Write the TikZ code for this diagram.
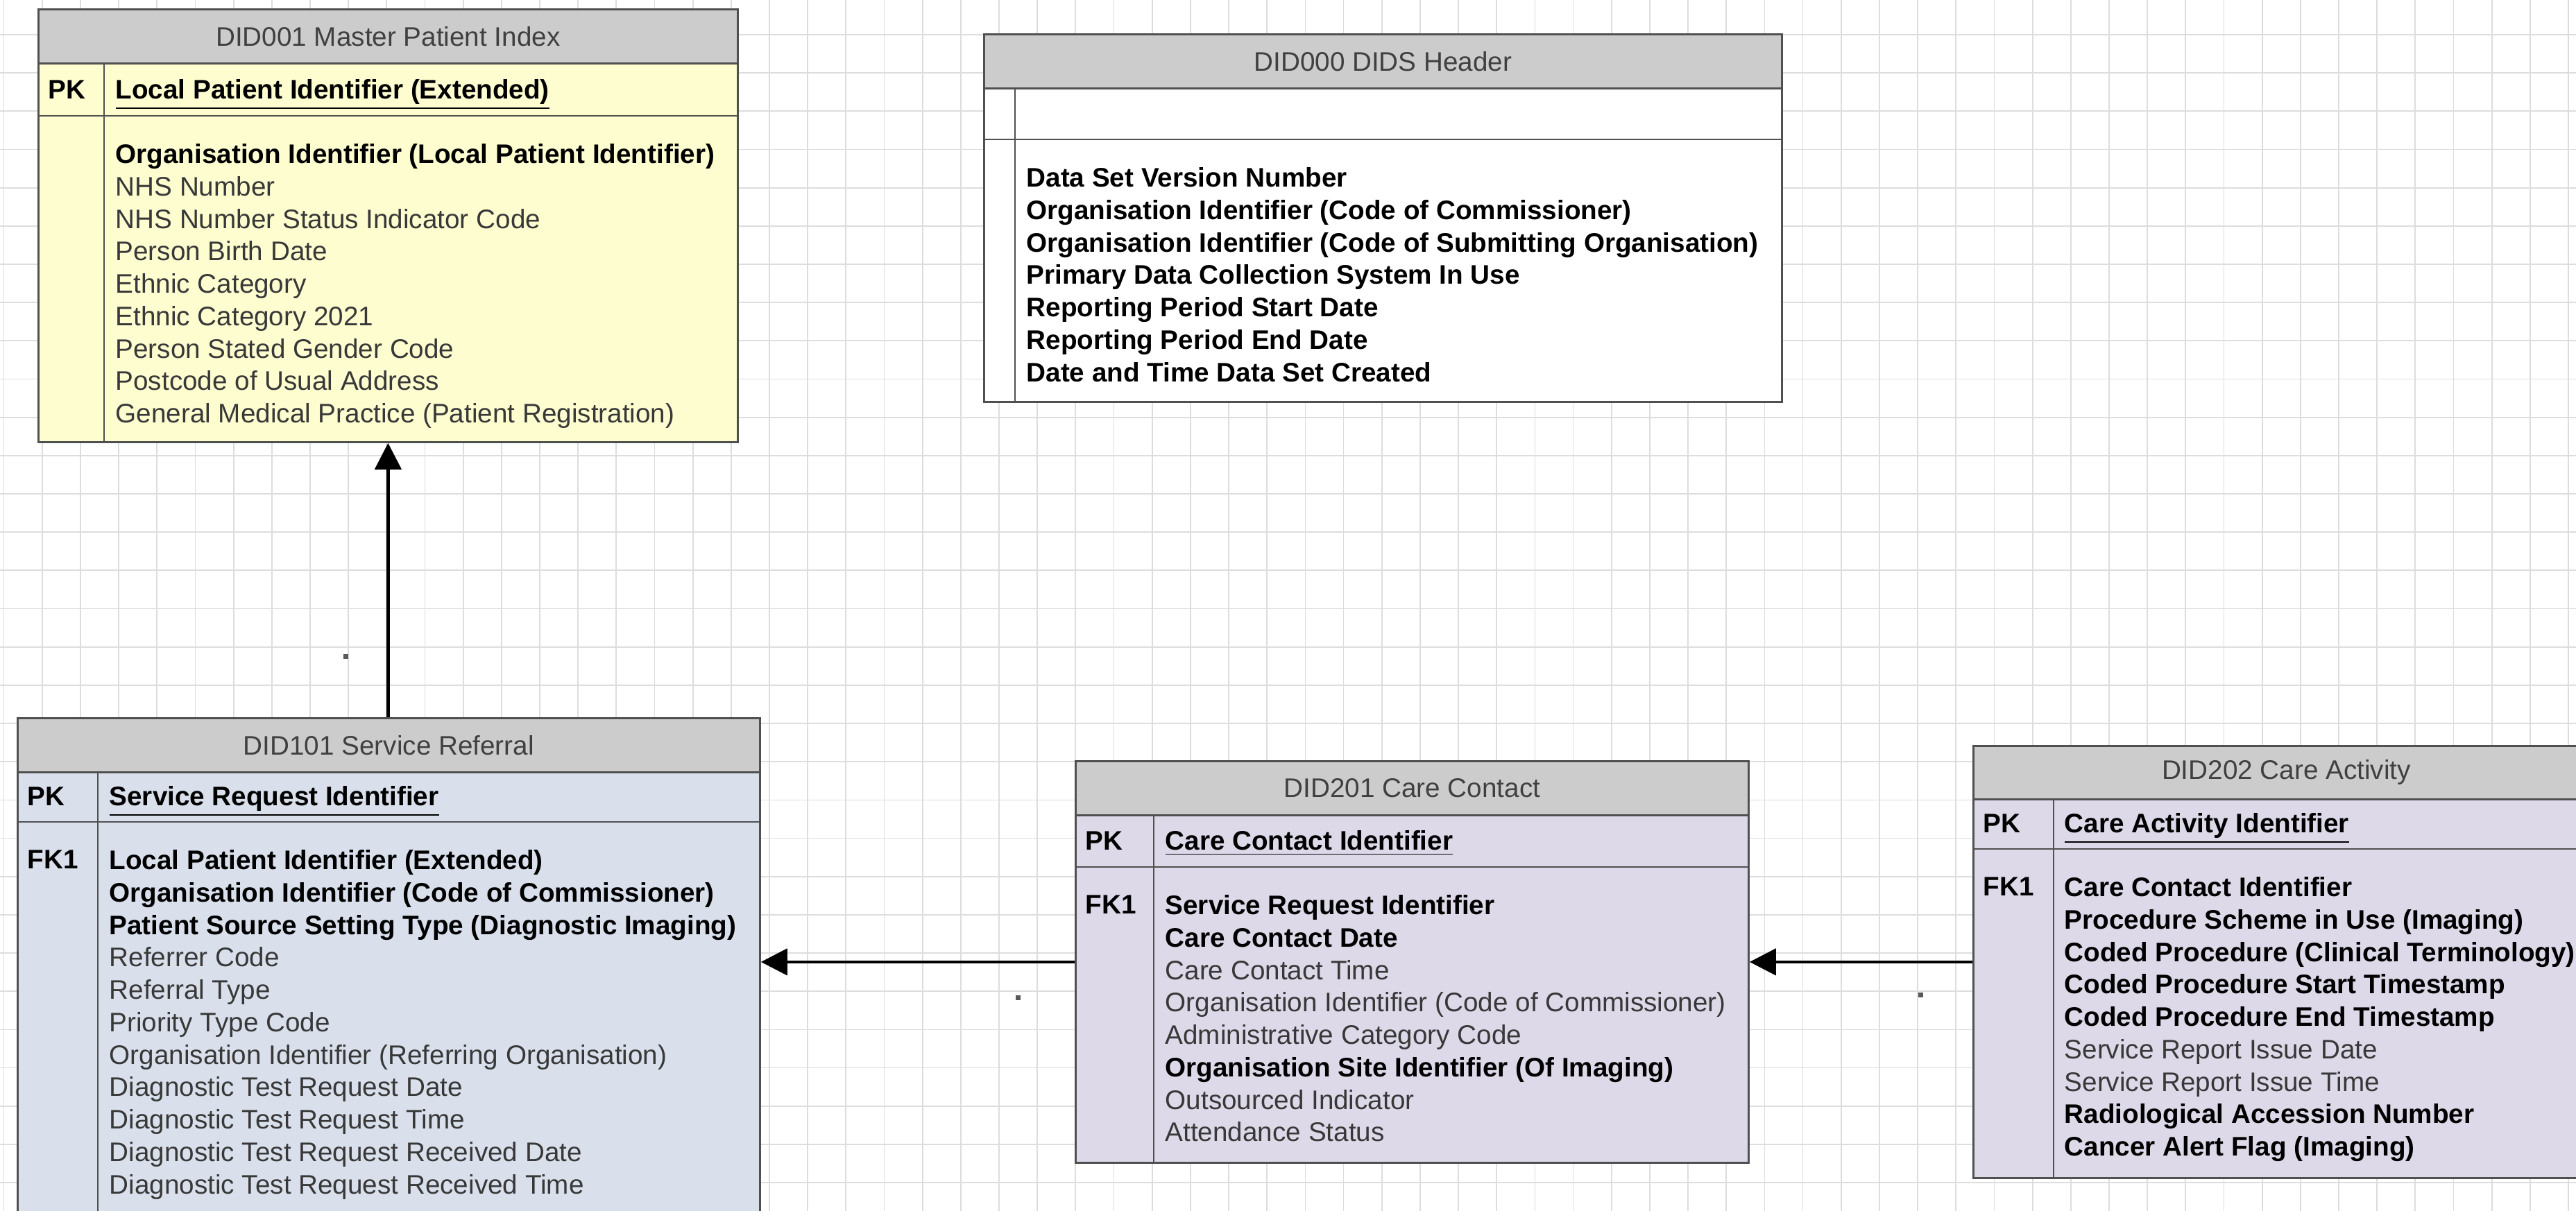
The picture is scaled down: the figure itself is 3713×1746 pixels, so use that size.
\documentclass[tikz,border=0pt]{standalone}
\usepackage{fontspec}
\setmainfont{Liberation Sans}
\usetikzlibrary{arrows.meta}
\definecolor{gridgray}{HTML}{DDDDDD}
\definecolor{edgegray}{HTML}{505050}
\definecolor{headgray}{HTML}{CCCCCC}
\definecolor{headtext}{HTML}{404040}
\definecolor{fieldtext}{HTML}{383838}
\definecolor{mpiyellow}{HTML}{FDFDD0}
\definecolor{refblue}{HTML}{D9E0EC}
\definecolor{carelilac}{HTML}{DDD9E9}
\newcommand{\erfont}{\fontsize{11}{13.3}\selectfont}
\newcommand{\req}[1]{\textbf{\color{black}#1}}

\begin{document}
\begin{tikzpicture}[
		x=0.1mm, y=-0.1mm,
		>={Triangle[width=3.8mm,length=3.8mm]},
		font=\erfont,
		gridline/.style={draw=gridgray, line width=0.5pt},
		entity/.style={draw=edgegray, line width=0.8pt, anchor=north west, inner sep=0pt},
		entityhead/.style={entity, fill=headgray, text=headtext},
		rowline/.style={draw=edgegray, line width=0.8pt},
		keylabel/.style={anchor=base west, inner sep=0pt, font=\erfont\bfseries},
		fklabel/.style={anchor=north west, inner sep=0pt, font=\erfont\bfseries},
		fields/.style={anchor=north west, inner sep=0pt, align=left, text=fieldtext},
		fk/.style={->, line width=1.3pt},
		reldot/.style={fill=black!65, minimum size=0.7mm, inner sep=0pt},
	]
	\useasboundingbox (0,0) rectangle (3713,1746);
	\clip (0,0) rectangle (3713,1746);
	\fill[white] (0,0) rectangle (3713,1746);
	\foreach \i in {0,...,67}
		\draw[gridline] (5.6+\i*55.17,0) -- (5.6+\i*55.17,1746);
	\foreach \j in {0,...,30}
		\draw[gridline] (0,50+\j*55.17) -- (3713,50+\j*55.17);

	\node[entity, fill=mpiyellow, minimum width=100.8mm, minimum height=62.4mm] (mpi) at (54,12) {};
	\node[entityhead, minimum width=100.8mm, minimum height=7.8mm] (mpi-head) at (54,12) {DID001 Master Patient Index};
	\draw[rowline] (54,167) -- (1062,167);
	\draw[rowline] (150,90) -- (150,636);
	\node[keylabel] (mpi-pk) at (69,143) {PK};
	\node[keylabel] (mpi-key) at (166,143) {\underline{Local Patient Identifier (Extended)}};
	\node[fields] (mpi-fields) at (166,207) {\req{Organisation Identifier (Local Patient Identifier)}\\
		NHS Number\\
		NHS Number Status Indicator Code\\
		Person Birth Date\\
		Ethnic Category\\
		Ethnic Category 2021\\
		Person Stated Gender Code\\
		Postcode of Usual Address\\
		General Medical Practice (Patient Registration)};

	\node[entity, fill=white, minimum width=115mm, minimum height=53mm] (dids) at (1417,48) {};
	\node[entityhead, minimum width=115mm, minimum height=7.8mm] (dids-head) at (1417,48) {DID000 DIDS Header};
	\draw[rowline] (1417,201) -- (2567,201);
	\draw[rowline] (1463,126) -- (1463,578);
	\node[fields, text=black, font=\erfont\bfseries] (dids-fields) at (1479,241) {Data Set Version Number\\
		Organisation Identifier (Code of Commissioner)\\
		Organisation Identifier (Code of Submitting Organisation)\\
		Primary Data Collection System In Use\\
		Reporting Period Start Date\\
		Reporting Period End Date\\
		Date and Time Data Set Created};

	\node[entity, fill=refblue, minimum width=107mm, minimum height=76.6mm] (ref) at (24,1034) {};
	\node[entityhead, minimum width=107mm, minimum height=7.8mm] (ref-head) at (24,1034) {DID101 Service Referral};
	\draw[rowline] (24,1185) -- (1094,1185);
	\draw[rowline] (141,1112) -- (141,1800);
	\node[keylabel] (ref-pk) at (39,1162) {PK};
	\node[keylabel] (ref-key) at (157,1162) {\underline{Service Request Identifier}};
	\node[fklabel] (ref-fk) at (39,1225) {FK1};
	\node[fields] (ref-fields) at (157,1225) {\req{Local Patient Identifier (Extended)}\\
		\req{Organisation Identifier (Code of Commissioner)}\\
		\req{Patient Source Setting Type (Diagnostic Imaging)}\\
		Referrer Code\\
		Referral Type\\
		Priority Type Code\\
		Organisation Identifier (Referring Organisation)\\
		Diagnostic Test Request Date\\
		Diagnostic Test Request Time\\
		Diagnostic Test Request Received Date\\
		Diagnostic Test Request Received Time};

	\node[entity, fill=carelilac, minimum width=97mm, minimum height=57.9mm] (contact) at (1549,1096) {};
	\node[entityhead, minimum width=97mm, minimum height=7.8mm] (contact-head) at (1549,1096) {DID201 Care Contact};
	\draw[rowline] (1549,1250) -- (2519,1250);
	\draw[rowline] (1663,1174) -- (1663,1675);
	\node[keylabel] (contact-pk) at (1564,1226) {PK};
	\node[keylabel] (contact-key) at (1679,1226) {\underline{Care Contact Identifier}};
	\node[fklabel] (contact-fk) at (1564,1290) {FK1};
	\node[fields] (contact-fields) at (1679,1290) {\req{Service Request Identifier}\\
		\req{Care Contact Date}\\
		Care Contact Time\\
		Organisation Identifier (Code of Commissioner)\\
		Administrative Category Code\\
		\req{Organisation Site Identifier (Of Imaging)}\\
		Outsourced Indicator\\
		Attendance Status};

	\node[entity, fill=carelilac, minimum width=90.2mm, minimum height=62.3mm] (activity) at (2843,1074) {};
	\node[entityhead, minimum width=90.2mm, minimum height=7.7mm] (activity-head) at (2843,1074) {DID202 Care Activity};
	\draw[rowline] (2843,1224) -- (3745,1224);
	\draw[rowline] (2960,1151) -- (2960,1697);
	\node[keylabel] (activity-pk) at (2858,1201) {PK};
	\node[keylabel] (activity-key) at (2975,1201) {\underline{Care Activity Identifier}};
	\node[fklabel] (activity-fk) at (2858,1264) {FK1};
	\node[fields] (activity-fields) at (2975,1264) {\req{Care Contact Identifier}\\
		\req{Procedure Scheme in Use (Imaging)}\\
		\req{Coded Procedure (Clinical Terminology)}\\
		\req{Coded Procedure Start Timestamp}\\
		\req{Coded Procedure End Timestamp}\\
		Service Report Issue Date\\
		Service Report Issue Time\\
		\req{Radiological Accession Number}\\
		\req{Cancer Alert Flag (Imaging)}};

	\draw[fk] (ref.north -| mpi.south) -- (mpi.south);
	\draw[fk] (contact.west) -- (contact.west -| ref.east);
	\draw[fk] (activity.west) -- (activity.west -| contact.east);
	\node[reldot] (mpi-rel) at (498,947) {};
	\node[reldot] (ref-rel) at (1467,1439) {};
	\node[reldot] (contact-rel) at (2768,1435) {};
\end{tikzpicture}
\end{document}
